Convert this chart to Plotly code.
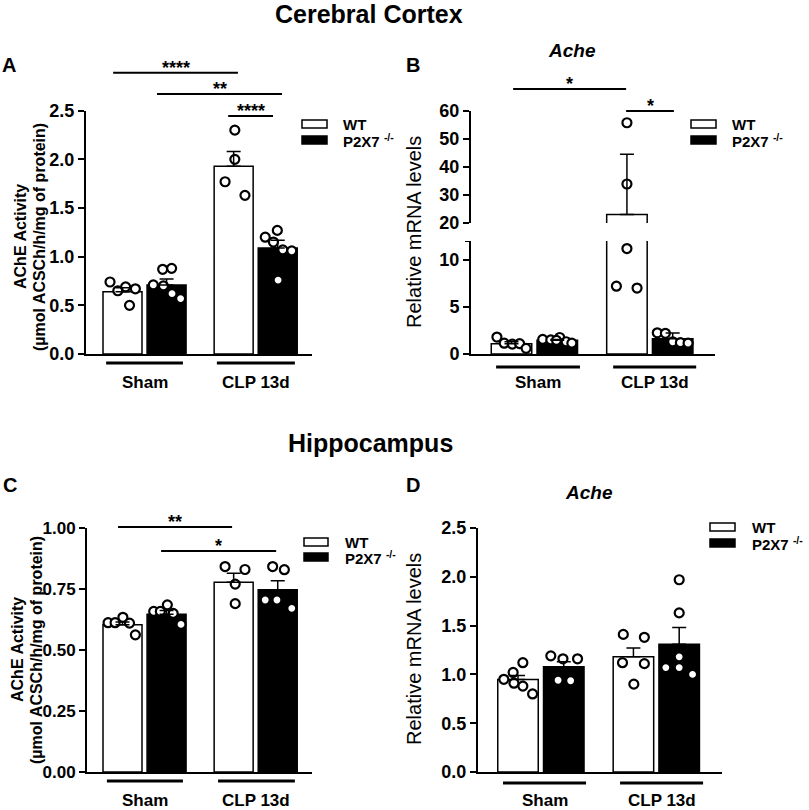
import plotly.graph_objects as go

W, H = 809, 810
FONT = "Liberation Sans, Arial, sans-serif"

groups = ["Sham", "CLP 13d"]
genotypes = ["WT", "P2X7 <sup>-/-</sup>"]

# A - cerebral cortex, AChE activity
a_wt_mean = [0.64, 1.93]
a_wt_sem = [0.04, 0.15]
a_ko_mean = [0.71, 1.09]
a_ko_sem = [0.06, 0.08]
a_wt_sham = [0.74, 0.65, 0.69, 0.67, 0.50]
a_wt_clp = [2.30, 2.00, 1.77, 1.63]
a_ko_sham = [0.71, 0.87, 0.88, 0.70, 0.62, 0.57]
a_ko_clp = [1.20, 1.27, 1.15, 1.07, 1.06, 0.76]

# B - cerebral cortex, Ache mRNA (broken axis)
b_wt_mean = [1.10, 23.0]
b_wt_sem = [0.20, 21.5]
b_ko_mean = [1.45, 1.62]
b_ko_sem = [0.10, 0.60]
b_wt_sham = [1.80, 1.15, 1.05, 1.10, 0.60]
b_wt_clp = [55.7, 33.9, 11.2, 7.2, 7.0]
b_ko_sham = [1.55, 1.50, 1.75, 1.45, 1.30, 1.15]
b_ko_clp = [2.25, 2.20, 1.30, 1.20, 1.15]

# C - hippocampus, AChE activity
c_wt_mean = [0.603, 0.778]
c_wt_sem = [0.012, 0.037]
c_ko_mean = [0.647, 0.747]
c_ko_sem = [0.015, 0.037]
c_wt_sham = [0.612, 0.612, 0.634, 0.610, 0.562]
c_wt_clp = [0.842, 0.830, 0.770, 0.690]
c_ko_sham = [0.658, 0.658, 0.685, 0.650, 0.605]
c_ko_clp = [0.842, 0.829, 0.705, 0.705, 0.671]

# D - hippocampus, Ache mRNA
d_wt_mean = [0.949, 1.18]
d_wt_sem = [0.04, 0.09]
d_ko_mean = [1.079, 1.31]
d_ko_sem = [0.05, 0.17]
d_wt_sham = [0.95, 1.02, 1.12, 0.91, 0.88, 0.80]
d_wt_clp = [1.41, 1.38, 1.12, 1.11, 0.90]
d_ko_sham = [1.19, 1.16, 1.16, 0.94, 0.935]
d_ko_clp = [1.97, 1.63, 1.18, 1.07, 1.07, 1.00]

# horizontal spread of the dots inside each bar (in bar widths)
a_jit = [[[-0.32, -0.12, 0.08, 0.33, 0.18], [0.03, 0.03, -0.22, 0.29]],
         [[-0.34, -0.10, 0.13, -0.08, 0.14, 0.36], [-0.32, -0.01, -0.11, 0.13, 0.36, 0.01]]]
b_jit = [[[-0.36, -0.18, 0.02, 0.20, 0.36], [0.0, 0.0, 0.0, -0.26, 0.25]],
         [[-0.36, -0.16, 0.06, -0.02, 0.22, 0.36], [-0.38, -0.18, 0.0, 0.19, 0.38]]]
c_jit = [[[-0.37, -0.19, 0.01, 0.18, 0.33], [-0.22, 0.29, 0.04, 0.04]],
         [[-0.33, -0.16, 0.02, 0.17, 0.37], [-0.13, 0.17, -0.32, -0.02, 0.36]]]
d_jit = [[[-0.35, -0.12, 0.12, -0.10, 0.12, 0.36], [-0.25, 0.27, -0.27, 0.27, 0.01]],
         [[-0.32, -0.02, 0.34, -0.14, 0.17], [0.0, 0.0, 0.0, -0.33, 0.0, 0.33]]]

SLOT = [[0.0, 2.85], [1.13, 3.98]]  # bar centres [genotype][group], in bar widths
FILL = ["white", "black"]

fig = go.Figure()


def add_panel(xa, ya, means, sems, dots, jit, clip=False):
    for gi in range(2):
        fig.add_trace(go.Bar(
            x=SLOT[gi], y=means[gi], width=1, name=genotypes[gi],
            marker=dict(color=FILL[gi], line=dict(color="black", width=1.5)),
            xaxis=xa, yaxis=ya, showlegend=False))
    for gi in range(2):
        for k in range(2):
            fig.add_trace(go.Scatter(
                x=[SLOT[gi][k] + j for j in jit[gi][k]], y=dots[gi][k],
                mode="markers", cliponaxis=clip, showlegend=False,
                marker=dict(symbol="circle", size=9, color="white",
                            line=dict(color="black", width=2.2)),
                xaxis=xa, yaxis=ya))
    for gi in range(2):
        fig.add_trace(go.Scatter(
            x=SLOT[gi], y=means[gi], mode="markers", cliponaxis=clip,
            showlegend=False, marker=dict(size=1, color="rgba(0,0,0,0)"),
            error_y=dict(type="data", symmetric=False, array=sems[gi],
                         arrayminus=[0, 0], color="black", thickness=1.5, width=7),
            xaxis=xa, yaxis=ya))


add_panel("x", "y", [a_wt_mean, a_ko_mean], [a_wt_sem, a_ko_sem],
          [[a_wt_sham, a_wt_clp], [a_ko_sham, a_ko_clp]], a_jit)
add_panel("x2", "y2", [b_wt_mean, b_ko_mean], [b_wt_sem, b_ko_sem],
          [[b_wt_sham, b_wt_clp], [b_ko_sham, b_ko_clp]], b_jit, clip=True)
add_panel("x2", "y3", [b_wt_mean, b_ko_mean], [b_wt_sem, b_ko_sem],
          [[b_wt_sham, b_wt_clp], [b_ko_sham, b_ko_clp]], b_jit, clip=True)
add_panel("x3", "y4", [c_wt_mean, c_ko_mean], [c_wt_sem, c_ko_sem],
          [[c_wt_sham, c_wt_clp], [c_ko_sham, c_ko_clp]], c_jit)
add_panel("x4", "y5", [d_wt_mean, d_ko_mean], [d_wt_sem, d_ko_sem],
          [[d_wt_sham, d_wt_clp], [d_ko_sham, d_ko_clp]], d_jit)


def xax(px, c0, w, anchor):
    return dict(domain=[px[0] / W, px[1] / W], range=[(px[0] - c0) / w, (px[1] - c0) / w],
                anchor=anchor, showline=True, linecolor="black", linewidth=2,
                showticklabels=False, ticks="", showgrid=False, zeroline=False,
                automargin=False, fixedrange=True)


def yax(top, bottom, rng, vals, text, anchor, size=18):
    return dict(domain=[1 - bottom / H, 1 - top / H], range=rng, anchor=anchor,
                tickvals=vals, ticktext=text, showline=True, linecolor="black",
                linewidth=2, ticks="outside", ticklen=6, tickwidth=2, tickcolor="black",
                showgrid=False, zeroline=False, automargin=False, fixedrange=True,
                tickfont=dict(family=FONT, size=size, color="black", weight="bold"))


fig.update_layout(
    template="none",
    width=W, height=H, margin=dict(l=0, r=0, t=0, b=0, pad=0), autosize=False,
    paper_bgcolor="white", plot_bgcolor="white", showlegend=False,
    barmode="overlay", font=dict(family=FONT, color="black"),
    xaxis=xax((86, 312), 122.5, 39, "y"),
    yaxis=yax(110.7, 354, [0, 2.5], [0, 0.5, 1, 1.5, 2, 2.5],
              ["0.0", "0.5", "1.0", "1.5", "2.0", "2.5"], "x"),
    xaxis2=xax((471, 715), 511.5, 40.5, "y2"),
    yaxis2=yax(241, 354, [0, 12], [0, 5, 10], ["0", "5", "10"], "x2"),
    yaxis3=yax(110.7, 223, [20, 60], [20, 30, 40, 50, 60],
               ["20", "30", "40", "50", "60"], "x2"),
    xaxis3=xax((87, 312), 122.5, 39, "y4"),
    yaxis4=yax(528, 772, [0, 1], [0, 0.25, 0.5, 0.75, 1],
               ["0.00", "0.25", "0.50", "0.75", "1.00"], "x3", size=17),
    xaxis4=xax((478, 722), 518, 40.5, "y5"),
    yaxis5=yax(528, 772, [0, 2.5], [0, 0.5, 1, 1.5, 2, 2.5],
               ["0.0", "0.5", "1.0", "1.5", "2.0", "2.5"], "x4"),
)

shapes = []
anns = []


def py(px):
    return 1 - px / H


def text(t, x, y, size, xref="paper", yref="paper", angle=0, xanchor="center"):
    anns.append(dict(text=t, x=x, y=y, xref=xref, yref=yref, showarrow=False,
                     xanchor=xanchor, yanchor="middle", textangle=angle,
                     font=dict(family=FONT, size=size, color="black")))


# cap at the top of the lower segment of the broken axis
shapes.append(dict(type="line", xref="paper", yref="y2", x0=(471 - 6) / W, x1=471 / W,
                   y0=12, y1=12, line=dict(color="black", width=2)))

# significance bars: (axis, x0, x1, y px, label)
sig = [("x", -0.24, 2.96, 72.7, "****"), ("x", 0.885, 4.09, 94, "**"),
       ("x", 2.71, 3.86, 116, "****"),
       ("x2", 0.04, 2.83, 89, "*"), ("x2", 2.83, 4.01, 111, "*"),
       ("x3", -0.115, 2.81, 527, "**"), ("x3", 0.99, 3.94, 551, "*")]
for xa, x0, x1, ypx, lab in sig:
    shapes.append(dict(type="line", xref=xa, yref="paper", x0=x0, x1=x1,
                       y0=py(ypx), y1=py(ypx), line=dict(color="black", width=2)))
    text("<b>" + lab + "</b>", (x0 + x1) / 2, py(ypx - 5), 18, xref=xa)

# group underlines and labels: (axis, sham span, clp span, line y, label y)
under = [("x", (-0.42, 1.55), (2.42, 4.42), 363, 383),
         ("x2", (-0.38, 1.69), (2.51, 4.56), 367, 383),
         ("x3", (-0.40, 1.55), (2.45, 4.42), 781, 800),
         ("x4", (-0.37, 1.68), (2.52, 4.57), 783, 800)]
for xa, s, c, ly, ty in under:
    for k, span in enumerate([s, c]):
        shapes.append(dict(type="line", xref=xa, yref="paper", x0=span[0], x1=span[1],
                           y0=py(ly), y1=py(ly), line=dict(color="black", width=3)))
        text("<b>" + groups[k] + "</b>", (span[0] + span[1]) / 2, py(ty), 17, xref=xa)

# legends: (box left px, box right px, WT y px, KO y px, text x px)
legs = [(302, 327, 124, 140, 341), (691, 716, 124, 140, 730),
        (304, 328, 542, 557, 343), (710, 735, 527, 543, 750)]
for bl, br, yw, yk, tx in legs:
    for gi, yc in enumerate([yw, yk]):
        shapes.append(dict(type="rect", xref="paper", yref="paper",
                           x0=bl / W, x1=br / W, y0=py(yc + 4), y1=py(yc - 4),
                           fillcolor=FILL[gi], line=dict(color="black", width=1.5)))
        text("<b>" + genotypes[gi] + "</b>", tx / W, py(yc), 15, xanchor="left")

# titles, panel letters, gene names
text("<b>Cerebral Cortex</b>", 369 / W, py(14), 25)
text("<b>Hippocampus</b>", 370 / W, py(443), 25)
for lab, x, y in [("A", 9, 65), ("B", 413, 65), ("C", 10, 485), ("D", 413, 485)]:
    text("<b>" + lab + "</b>", x / W, py(y), 20)
text("<b><i>Ache</i></b>", 572 / W, py(50), 19)
text("<b><i>Ache</i></b>", 589 / W, py(492), 19)

# y axis titles: (centre y px, first line x px, second line x px)
for yc, x1, x2 in [(237, 21, 40), (650, 17, 36)]:
    text("<b>AChE Activity</b>", x1 / W, py(yc), 16, angle=-90)
    text("<b>(µmol ACSCh/h/mg of protein)</b>", x2 / W, py(yc), 16, angle=-90)
text("Relative mRNA levels", 414 / W, py(232), 20, angle=-90)
text("Relative mRNA levels", 414 / W, py(649), 20, angle=-90)

fig.update_layout(shapes=shapes, annotations=anns)
# the page body has a default 8px margin; drop it so the figure fills the window
fig.write_html("out.html", config={"displayModeBar": False},
               post_script="document.body.style.margin = '0px';")
